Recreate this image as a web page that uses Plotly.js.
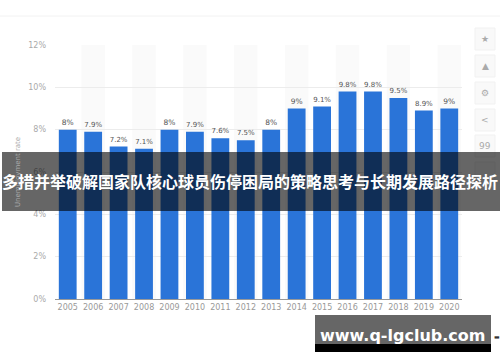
<!DOCTYPE html>
<html>
<head>
<meta charset="utf-8">
<script src="https://cdn.plot.ly/plotly-3.0.1.min.js"></script>
<style>html,body{margin:0;padding:0;background:#fff;}#chart{width:500px;height:362px;}</style>
</head>
<body>
<div id="chart"></div>
<script>
const years = ['2005','2006','2007','2008','2009','2010','2011','2012','2013','2014','2015','2016','2017','2018','2019','2020'];
const rates = [8, 7.9, 7.2, 7.1, 8, 7.9, 7.6, 7.5, 8, 9, 9.1, 9.8, 9.8, 9.5, 8.9, 9];
const rateLabels = ['8%','7.9%','7.2%','7.1%','8%','7.9%','7.6%','7.5%','8%','9%','9.1%','9.8%','9.8%','9.5%','8.9%','9%'];
const bannerText = '多措并举破解国家队核心球员伤停困局的策略思考与长期发展路径探析';
const watermark = 'www.q-lgclub.com';
const yTitle = 'Unemployment rate';

const W = 500, H = 362, L = 55, R = 38, T = 45, B = 63;
const pw = W - L - R, ph = H - T - B;
const px = x => (x - L) / pw;
const py = y => (H - B - y) / ph;

const shapes = [];
// alternating column bands
years.forEach((y, i) => {
  if (i % 2 === 1) shapes.push({type:'rect', xref:'x', yref:'y', x0:i-0.46, x1:i+0.46, y0:0, y1:12, fillcolor:'#fafafa', line:{width:0}, layer:'below'});
});
// faint top border
shapes.push({type:'line', xref:'paper', yref:'paper', x0:px(0), x1:px(500), y0:py(16), y1:py(16), line:{color:'#f2f2f2', width:1}});
// right sidebar icon boxes
const iconY = [39, 66, 93, 120, 146, 173];
const iconGlyph = ['★','▲','⚙','<','99',''];
iconY.forEach(cy => shapes.push({type:'rect', xref:'paper', yref:'paper', x0:px(475), x1:px(495), y0:py(cy+11), y1:py(cy-11), fillcolor:'#f9f9f9', line:{color:'#f1f1f1', width:1}}));
// banner
shapes.push({type:'rect', xref:'paper', yref:'paper', x0:px(2), x1:px(500), y0:py(211), y1:py(152), fillcolor:'rgba(0,0,0,0.6)', line:{width:0}, layer:'above'});
// watermark
shapes.push({type:'rect', xref:'paper', yref:'paper', x0:px(315), x1:px(491), y0:py(344), y1:py(315), fillcolor:'#666666', line:{width:0}, layer:'above'});
shapes.push({type:'rect', xref:'paper', yref:'paper', x0:px(315), x1:px(491), y0:py(352), y1:py(344), fillcolor:'#000000', line:{width:0}, layer:'above'});

const annotations = [
  {xref:'paper', yref:'paper', x:px(250), y:py(181), text:'<b>'+bannerText+'</b>', showarrow:false, xanchor:'center', yanchor:'middle', font:{family:'Noto Sans CJK SC', size:16, color:'#ffffff'}},
  {xref:'paper', yref:'paper', x:px(402), y:py(335), text:'<b>'+watermark+'</b>', showarrow:false, xanchor:'center', yanchor:'middle', font:{family:'DejaVu Sans', size:16, color:'#ffffff'}},
  {xref:'paper', yref:'paper', x:px(497), y:py(336), text:'▬', showarrow:false, xanchor:'center', yanchor:'middle', font:{family:'DejaVu Sans', size:6, color:'#333'}}
];
iconY.forEach((cy, i) => annotations.push({xref:'paper', yref:'paper', x:px(485), y:py(cy), text:iconGlyph[i], showarrow:false, xanchor:'center', yanchor:'middle', font:{family:'DejaVu Sans', size:9, color:'#aaaaaa'}}));

const trace = {
  type:'bar', x: years, y: rates, text: rateLabels, textposition:'outside', cliponaxis:false,
  textfont:{family:'DejaVu Sans', size:7.5, color:'#555555'},
  marker:{color:'#2a74d8'}, hoverinfo:'none'
};

const layout = {
  width: W, height: H, margin:{l:L, r:R, t:T, b:B, pad:0},
  paper_bgcolor:'#ffffff', plot_bgcolor:'#ffffff',
  bargap:0.3, showlegend:false,
  xaxis:{type:'category', range:[-0.5, 15.5], showgrid:false, showline:true, linecolor:'#999999', linewidth:1, ticks:'', tickfont:{family:'DejaVu Sans', size:8, color:'#999999'}, fixedrange:true},
  yaxis:{range:[0,12], dtick:2, ticksuffix:'%', showgrid:true, gridcolor:'#ececec', zeroline:false, ticks:'', ticklabelstandoff:8, tickfont:{family:'DejaVu Sans', size:8, color:'#aaaaaa'},
    title:{text:yTitle, font:{family:'DejaVu Sans', size:7, color:'#aaaaaa'}, standoff:6}},
  shapes: shapes, annotations: annotations
};
Plotly.newPlot('chart', [trace], layout, {displayModeBar:false, staticPlot:true});
</script>
</body>
</html>
